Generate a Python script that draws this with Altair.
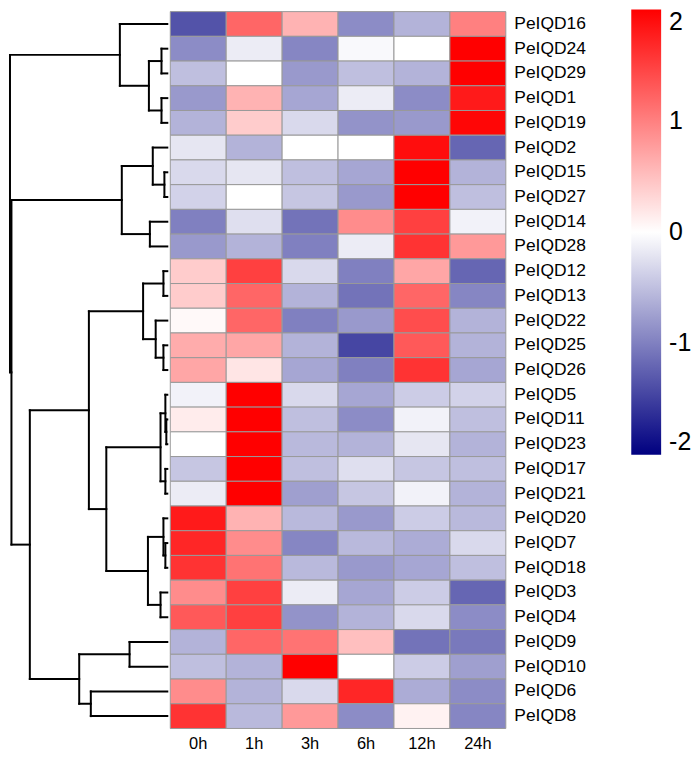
import altair as alt
import pandas as pd

genes = ["PeIQD16", "PeIQD24", "PeIQD29", "PeIQD1", "PeIQD19", "PeIQD2", "PeIQD15",
         "PeIQD27", "PeIQD14", "PeIQD28", "PeIQD12", "PeIQD13", "PeIQD22", "PeIQD25",
         "PeIQD26", "PeIQD5", "PeIQD11", "PeIQD23", "PeIQD17", "PeIQD21", "PeIQD20",
         "PeIQD7", "PeIQD18", "PeIQD3", "PeIQD4", "PeIQD9", "PeIQD10", "PeIQD6", "PeIQD8"]
times = ["0h", "1h", "3h", "6h", "12h", "24h"]

v_0h = [-1.35, -0.9, -0.5, -0.8, -0.6, -0.2, -0.3, -0.35, -1.0, -0.8, 0.4, 0.4, 0.05, 0.65,
        0.7, -0.1, 0.15, 0.0, -0.45, -0.15, 1.8, 1.7, 1.6, 0.9, 1.3, -0.6, -0.5, 0.9, 1.6]
v_1h = [1.2, -0.15, 0.0, 0.6, 0.4, -0.6, -0.2, 0.0, -0.25, -0.6, 1.5, 1.2, 1.2, 0.7,
        0.2, 2.0, 2.0, 2.0, 2.0, 2.0, 0.6, 0.9, 1.1, 1.5, 1.5, 1.2, -0.6, -0.6, -0.55]
v_3h = [0.6, -0.95, -0.8, -0.7, -0.3, 0.0, -0.5, -0.45, -1.1, -1.0, -0.3, -0.6, -1.0, -0.6,
        -0.7, -0.3, -0.5, -0.55, -0.5, -0.75, -0.55, -0.95, -0.55, -0.15, -0.85, 1.1, 2.0, -0.3, 0.8]
v_6h = [-0.9, -0.05, -0.5, -0.15, -0.85, 0.0, -0.7, -0.8, 0.9, -0.15, -1.0, -1.1, -0.8, -1.45,
        -1.0, -0.7, -0.9, -0.6, -0.25, -0.45, -0.8, -0.55, -0.8, -0.7, -0.6, 0.5, 0.0, 1.7, -0.9]
v_12h = [-0.6, 0.0, -0.6, -0.9, -0.8, 1.9, 2.0, 2.0, 1.5, 1.6, 0.7, 1.2, 1.4, 1.3,
         1.6, -0.4, -0.1, -0.2, -0.45, -0.1, -0.4, -0.65, -0.7, -0.4, -0.3, -1.1, -0.4, -0.65, 0.1]
v_24h = [1.0, 2.0, 2.0, 1.8, 1.95, -1.2, -0.6, -0.5, -0.1, 0.8, -1.2, -0.95, -0.6, -0.6,
         -0.7, -0.35, -0.5, -0.6, -0.5, -0.6, -0.55, -0.3, -0.5, -1.2, -0.9, -1.05, -0.75, -0.9, -0.95]

# dendrogram merges: (left child id, right child id, height); leaves are 0..28 in row order
merge_left = [1, 3, 29, 0, 6, 5, 8, 34, 10, 13, 12, 37, 16, 15, 18, 42, 21, 20, 23, 46, 44, 40, 25, 27, 51, 50, 36, 32]
merge_right = [2, 4, 30, 31, 7, 33, 9, 35, 11, 14, 38, 39, 17, 41, 19, 43, 22, 45, 24, 47, 48, 49, 26, 28, 52, 53, 54, 55]
merge_height = [0.6, 0.6, 1.9, 4.9, 0.3, 1.5, 1.8, 4.7, 0.4, 0.4, 1.2, 2.5, 0.1, 0.2, 0.2, 0.7,
                0.2, 0.4, 0.7, 2.0, 6.3, 8.1, 3.9, 7.9, 9.1, 14.2, 16.1, 16.25]

legend_values = [-2, -1, 0, 1, 2]

series = {"0h": v_0h, "1h": v_1h, "3h": v_3h, "6h": v_6h, "12h": v_12h, "24h": v_24h}
rows = []
for t in times:
    for g, v in zip(genes, series[t]):
        rows.append({"gene": g, "time": t, "value": v})
heat_df = pd.DataFrame(rows)

n = len(genes)
pos = {i: i + 0.5 for i in range(n)}
hgt = {i: 0.0 for i in range(n)}
segs = []
for k, (a, b, h) in enumerate(zip(merge_left, merge_right, merge_height)):
    nid = n + k
    segs.append({"x": h, "x2": h, "y": pos[a], "y2": pos[b]})
    segs.append({"x": hgt[a], "x2": h, "y": pos[a], "y2": pos[a]})
    segs.append({"x": hgt[b], "x2": h, "y": pos[b], "y2": pos[b]})
    pos[nid] = (pos[a] + pos[b]) / 2
    hgt[nid] = h
dend_df = pd.DataFrame(segs)

FONT = "Liberation Sans"
H = 720

dend = alt.Chart(dend_df).mark_rule(color="black", strokeWidth=2, strokeCap="square").encode(
    x=alt.X("x:Q", scale=alt.Scale(domain=[16.25, 0], nice=False, zero=False), axis=None),
    x2="x2:Q",
    y=alt.Y("y:Q", scale=alt.Scale(domain=[0, n], reverse=True, nice=False, zero=False), axis=None),
    y2="y2:Q",
).properties(width=158, height=H)

heat = alt.Chart(heat_df).mark_rect(stroke="#999999", strokeWidth=1).encode(
    x=alt.X("time:N", sort=times, scale=alt.Scale(paddingInner=0, paddingOuter=0),
            axis=alt.Axis(title=None, orient="bottom", labelAngle=0, ticks=False, domain=False,
                          labelFontSize=16.5, labelPadding=7, labelColor="black", labelFont=FONT)),
    y=alt.Y("gene:N", sort=genes, scale=alt.Scale(paddingInner=0, paddingOuter=0),
            axis=alt.Axis(title=None, orient="right", ticks=False, domain=False,
                          labelFontSize=17.5, labelPadding=8, labelColor="black", labelFont=FONT)),
    color=alt.Color("value:Q",
                    scale=alt.Scale(domain=[-2, 0, 2], range=["#000080", "#ffffff", "#ff0000"],
                                    interpolate="rgb", clamp=True),
                    legend=alt.Legend(title=None, orient="none", direction="vertical",
                                      legendX=624, legendY=-2, gradientLength=447,
                                      gradientThickness=30, gradientStrokeWidth=0,
                                      values=legend_values, labelExpr="'' + datum.value",
                                      labelFontSize=25, labelFont=FONT, labelColor="black",
                                      labelOffset=8)),
).properties(width=337, height=H)

chart = alt.hconcat(dend, heat, spacing=0).properties(
    padding={"left": 0, "top": 0, "right": 0, "bottom": -3}
).configure_view(stroke=None)

chart.save("out.html", embed_options={"renderer": "svg", "actions": False})
